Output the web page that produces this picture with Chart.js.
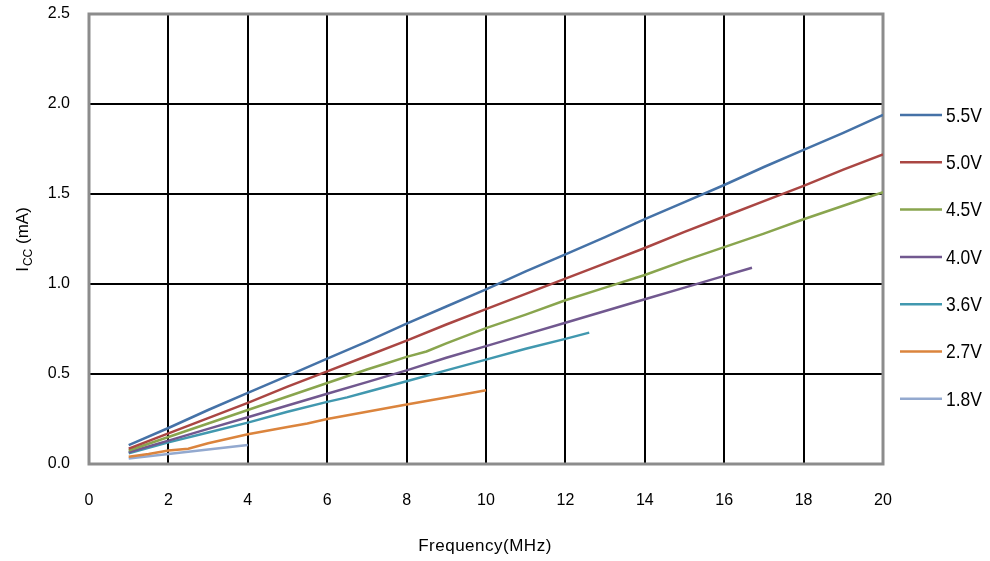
<!DOCTYPE html>
<html>
<head>
<meta charset="utf-8">
<script src="https://cdn.jsdelivr.net/npm/chart.js@4.4.1/dist/chart.umd.min.js"></script>
<style>
  html, body { margin: 0; padding: 0; background: #fff; }
  #wrap { width: 990px; height: 561px; }
</style>
</head>
<body>
<div id="wrap"><canvas id="myChart" width="990" height="561"></canvas></div>
<script>
// frequency (MHz) for each supply voltage curve
const freq55 = [1, 2, 3, 4, 5, 6, 7, 8, 9, 10, 11, 12, 13, 14, 15, 16, 17, 18, 19, 20];
const freq50 = [1, 2, 3, 4, 5, 6, 7, 8, 9, 10, 11, 12, 13, 14, 15, 16, 17, 18, 19, 20];
const freq45 = [1, 2, 3, 4, 5, 6, 7, 7.5, 8, 8.5, 9, 10, 11, 12, 13, 14, 15, 16, 17, 18, 19, 20];
const freq40 = [1, 2, 3, 4, 5, 6, 7, 8, 9, 10, 11, 12, 13, 14, 15, 16, 16.7];
const freq36 = [1, 2, 3, 4, 5, 6, 6.5, 7, 8, 9, 10, 11, 12, 12.6];
const freq27 = [1, 1.5, 2, 2.5, 3, 4, 5, 5.5, 6, 7, 8, 9, 10];
const freq18 = [1, 2, 3, 4];

// supply current Icc (mA)
const icc55 = [0.105, 0.20, 0.30, 0.395, 0.49, 0.585, 0.68, 0.78, 0.875, 0.97, 1.07, 1.165, 1.26, 1.36, 1.455, 1.55, 1.65, 1.745, 1.84, 1.94];
const icc50 = [0.085, 0.17, 0.255, 0.34, 0.43, 0.515, 0.60, 0.685, 0.775, 0.86, 0.945, 1.03, 1.115, 1.20, 1.29, 1.375, 1.46, 1.545, 1.635, 1.72];
const icc45 = [0.075, 0.15, 0.225, 0.30, 0.375, 0.45, 0.525, 0.56, 0.595, 0.625, 0.67, 0.755, 0.83, 0.91, 0.98, 1.05, 1.13, 1.205, 1.28, 1.36, 1.435, 1.51];
const icc40 = [0.065, 0.13, 0.195, 0.26, 0.325, 0.39, 0.455, 0.52, 0.59, 0.655, 0.72, 0.785, 0.85, 0.915, 0.98, 1.045, 1.09];
const icc36 = [0.06, 0.12, 0.175, 0.23, 0.29, 0.345, 0.37, 0.40, 0.46, 0.52, 0.58, 0.64, 0.695, 0.73];
const icc27 = [0.04, 0.055, 0.075, 0.085, 0.115, 0.165, 0.205, 0.225, 0.25, 0.29, 0.33, 0.37, 0.41];
const icc18 = [0.03, 0.055, 0.08, 0.105];

const seriesNames = ['5.5V', '5.0V', '4.5V', '4.0V', '3.6V', '2.7V', '1.8V'];
const seriesColors = ['#4572A7', '#AA4643', '#89A54E', '#71588F', '#4198AF', '#DB843D', '#93A9CF'];
const xTicks = [0, 2, 4, 6, 8, 10, 12, 14, 16, 18, 20];
const yTicks = [0, 0.5, 1.0, 1.5, 2.0, 2.5];

const allFreq = [freq55, freq50, freq45, freq40, freq36, freq27, freq18];
const allIcc = [icc55, icc50, icc45, icc40, icc36, icc27, icc18];

const datasets = seriesNames.map((name, i) => ({
    label: name,
    data: allFreq[i].map((f, j) => ({ x: f, y: allIcc[i][j] })),
    borderColor: seriesColors[i],
    backgroundColor: seriesColors[i],
    borderWidth: 2.5,
    pointRadius: 0,
    fill: false,
    tension: 0
}));

// gray frame round the plot area
const plotFrame = {
    id: 'plotFrame',
    beforeDatasetsDraw(chart) {
        const { ctx, chartArea: a } = chart;
        ctx.save();
        ctx.strokeStyle = '#8c8c8c';
        ctx.lineWidth = 3;
        ctx.strokeRect(a.left, a.top, a.right - a.left, a.bottom - a.top);
        ctx.restore();
    }
};

// axis titles (y one has a subscript) and the legend on the right
const extras = {
    id: 'extras',
    afterDraw(chart) {
        const { ctx } = chart;
        const big = '17px "Liberation Sans", Arial, sans-serif';
        const small = '12px "Liberation Sans", Arial, sans-serif';
        ctx.save();
        ctx.fillStyle = '#000';
        ctx.textBaseline = 'alphabetic';

        // x title
        ctx.font = big;
        ctx.letterSpacing = '0.5px';
        ctx.textAlign = 'center';
        ctx.fillText('Frequency(MHz)', 485, 551);
        ctx.letterSpacing = '0px';

        // y title, rotated
        ctx.translate(28, 240);
        ctx.rotate(-Math.PI / 2);
        ctx.textAlign = 'left';
        ctx.font = big;
        const wI = ctx.measureText('I').width;
        ctx.font = small;
        const wCC = ctx.measureText('CC').width;
        ctx.font = big;
        const wRest = ctx.measureText(' (mA)').width;
        const x0 = -(wI + wCC + wRest) / 2;
        ctx.fillText('I', x0, 0);
        ctx.font = small;
        ctx.fillText('CC', x0 + wI + 1, 4);
        ctx.font = big;
        ctx.fillText(' (mA)', x0 + wI + 1 + wCC, 0);
        ctx.setTransform(1, 0, 0, 1, 0, 0);

        // legend (narrow text like the original)
        ctx.font = '21px "Liberation Sans", Arial, sans-serif';
        ctx.textBaseline = 'middle';
        ctx.textAlign = 'left';
        chart.data.datasets.forEach((ds, i) => {
            const y = 115 + i * 47.3;
            ctx.strokeStyle = ds.borderColor;
            ctx.lineWidth = 2.5;
            ctx.beginPath();
            ctx.moveTo(900, y);
            ctx.lineTo(942, y);
            ctx.stroke();
            ctx.save();
            ctx.translate(946, y + 1);
            ctx.scale(0.83, 1);
            ctx.fillStyle = '#000';
            ctx.fillText(ds.label, 0, 0);
            ctx.restore();
        });
        ctx.restore();
    }
};

const tickFont = { family: '"Liberation Sans", Arial, sans-serif', size: 16 };

new Chart(document.getElementById('myChart'), {
    type: 'scatter',
    data: { datasets: datasets },
    options: {
        responsive: false,
        animation: false,
        showLine: true,
        layout: { padding: { top: 14, right: 107, left: 0, bottom: 0 } },
        plugins: {
            legend: { display: false },
            tooltip: { enabled: false }
        },
        scales: {
            x: {
                type: 'linear',
                min: 0,
                max: 20,
                afterBuildTicks: s => { s.ticks = xTicks.map(v => ({ value: v })); },
                afterFit: s => { s.height = 97; s.paddingLeft = 0; s.paddingRight = 0; },
                ticks: { font: tickFont, color: '#000', padding: 27, maxRotation: 0 },
                grid: { color: '#000', lineWidth: 2, drawTicks: false },
                border: { display: false }
            },
            y: {
                type: 'linear',
                min: 0,
                max: 2.5,
                afterBuildTicks: s => { s.ticks = yTicks.map(v => ({ value: v })); },
                afterFit: s => { s.width = 89; s.paddingTop = 0; s.paddingBottom = 0; },
                ticks: { font: tickFont, color: '#000', padding: 19, callback: v => v.toFixed(1) },
                grid: { color: '#000', lineWidth: 2, drawTicks: false },
                border: { display: false }
            }
        }
    },
    plugins: [plotFrame, extras]
});
</script>
</body>
</html>
